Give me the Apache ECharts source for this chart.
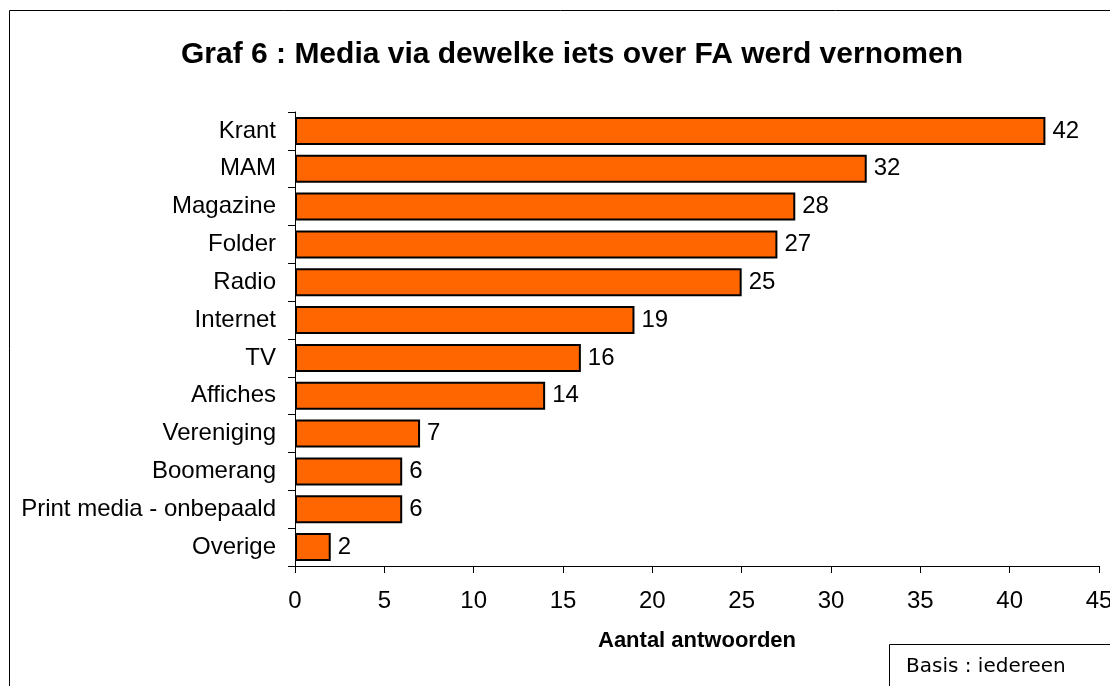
<!DOCTYPE html>
<html><head><meta charset="utf-8">
<script src="https://cdn.jsdelivr.net/npm/echarts@6/dist/echarts.min.js"></script>
<style>html,body{margin:0;padding:0;background:#fff}#c{width:1110px;height:686px}</style>
</head><body><div id="c"></div>
<script>
const categories = ["Krant","MAM","Magazine","Folder","Radio","Internet","TV","Affiches","Vereniging","Boomerang","Print media - onbepaald","Overige"];
const values = [42,32,28,27,25,19,16,14,7,6,6,2];
const xTicks = {min:0, max:45, interval:5};
const titleText = "Graf 6 : Media via dewelke iets over FA werd vernomen";
const xName = "Aantal antwoorden";
const noteText = "Basis : iedereen";

const chart = echarts.init(document.getElementById('c'));
const font = "'Liberation Sans', Arial, sans-serif";
chart.setOption({
  animation:false,
  backgroundColor:'#fff',
  title:{text:titleText,left:567,textAlign:'center',top:35,textStyle:{fontFamily:font,fontSize:30,fontWeight:'bold',color:'#000'}},
  graphic:[
    {type:'rect',shape:{x:9.5,y:10.5,width:1300,height:900},style:{fill:'none',stroke:'#000',lineWidth:1},z:-1},
    {type:'rect',shape:{x:889.5,y:644.5,width:400,height:100},style:{fill:'#fff',stroke:'#000',lineWidth:1}},
    {type:'text',x:906,y:657,style:{text:noteText,font:"20px 'DejaVu Sans', sans-serif",fill:'#000'}}
  ],
  grid:{left:295,right:11,top:112,bottom:120,containLabel:false,outerBoundsMode:'none'},
  xAxis:{type:'value',min:xTicks.min,max:xTicks.max,interval:xTicks.interval,
    name:xName,nameLocation:'middle',nameGap:64,
    nameTextStyle:{fontFamily:font,fontSize:22,fontWeight:'bold',color:'#000'},
    axisLine:{show:true,lineStyle:{color:'#000',width:1}},
    axisTick:{show:true,length:7,lineStyle:{color:'#000'}},
    axisLabel:{fontFamily:font,fontSize:24,color:'#000',margin:23},
    splitLine:{show:false}},
  yAxis:{type:'category',data:categories,inverse:true,
    axisLine:{show:true,lineStyle:{color:'#000',width:1}},
    axisTick:{show:true,length:7,lineStyle:{color:'#000'}},
    axisLabel:{fontFamily:font,fontSize:24,color:'#000',margin:19}},
  series:[{type:'bar',data:values,barCategoryGap:'26%',
    itemStyle:{color:'#FF6600',borderColor:'#000',borderWidth:2},
    label:{show:true,position:'right',distance:7,fontFamily:font,fontSize:24,color:'#000'}}]
});
</script></body></html>
